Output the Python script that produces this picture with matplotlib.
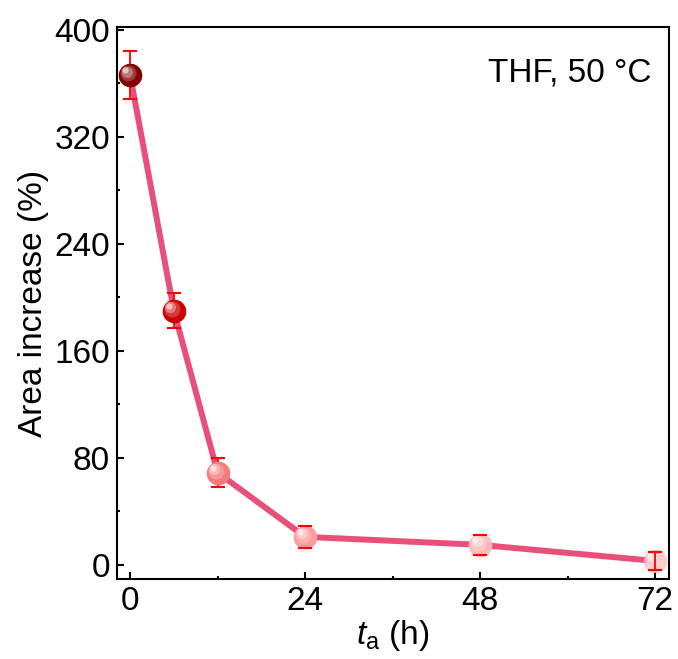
import matplotlib
matplotlib.use("Agg")
import matplotlib.pyplot as plt
from matplotlib import transforms
from matplotlib.ticker import MultipleLocator
import matplotlib.colors as mcolors
import numpy as np

plt.rcParams['font.family'] = ['Liberation Sans', 'DejaVu Sans']
plt.rcParams['mathtext.fontset'] = 'custom'
plt.rcParams['mathtext.rm'] = 'Liberation Sans'
plt.rcParams['mathtext.it'] = 'Liberation Sans:italic'

t_hours = [0, 6, 12, 24, 48, 72]
area_increase = [366, 190, 69, 21, 15, 3]
area_err = [18, 13, 11, 8, 7.5, 7]
marker_colors = ['#820000', '#cc0000', '#f47b7b', '#ff9a9a', '#ffbaba', '#ffc0c0']
marker_alpha = [1, 1, 1, 1, 0.95, 0.75]

fig = plt.figure(figsize=(6.78, 6.59), dpi=100)
ax = fig.add_axes([0.1726, 0.1214, 0.8141, 0.8376])

ax.plot(t_hours, area_increase, color='#e8507a', lw=4.3, zorder=2, solid_capstyle='butt')
eb = ax.errorbar(t_hours, area_increase, yerr=area_err, fmt='none', ecolor='#ff0000',
                 elinewidth=1.3, capsize=5, capthick=1.5, zorder=3)
for cl in eb[1]:
    cl.set_zorder(7)

for i, (x, y) in enumerate(zip(t_hours, area_increase)):
    c = np.array(mcolors.to_rgb(marker_colors[i]))
    a = marker_alpha[i]
    ax.plot([x], [y], 'o', ms=17, color=c, mec='none', alpha=a, zorder=4)
    # sphere shading
    layers = [(11.5, 0.25, -1.5, 1.5), (8, 0.5, -2.5, 2.5), (4.5, 0.8, -3.5, 3.5)]
    for ms, mix, dx, dy in layers:
        col = c + (1 - c) * mix
        tr = transforms.offset_copy(ax.transData, fig=fig, x=dx, y=dy, units='points')
        ax.plot([x], [y], 'o', ms=ms, color=col, mec='none', alpha=a * 0.9,
                transform=tr, zorder=5)
    if i == len(t_hours) - 1:
        ax.errorbar([x], [y], yerr=[area_err[i]], fmt='none', ecolor='#ff0000',
                    elinewidth=1.3, capsize=5, capthick=1.5, zorder=6)

ax.set_xlim(-1.8, 73.9)
ax.set_ylim(-10.5, 402)
ax.xaxis.set_major_locator(MultipleLocator(24))
ax.xaxis.set_minor_locator(MultipleLocator(12))
ax.yaxis.set_major_locator(MultipleLocator(80))
ax.yaxis.set_minor_locator(MultipleLocator(40))

for s in ax.spines.values():
    s.set_linewidth(1.5)
ax.tick_params(which='major', direction='in', length=5, width=1.5, labelsize=24, pad=5)
ax.tick_params(which='minor', direction='in', length=2.5, width=1.5)
ax.tick_params(top=False, right=False, which='both')

ax.set_xlabel(r'$t_\mathrm{a}$ (h)', fontsize=24, labelpad=1)
ax.set_ylabel('Area increase (%)', fontsize=24, labelpad=4)
ax.text(0.969, 0.917, 'THF, 50 °C', transform=ax.transAxes, ha='right', va='center', fontsize=24)

fig.savefig('out.png', dpi=100)
